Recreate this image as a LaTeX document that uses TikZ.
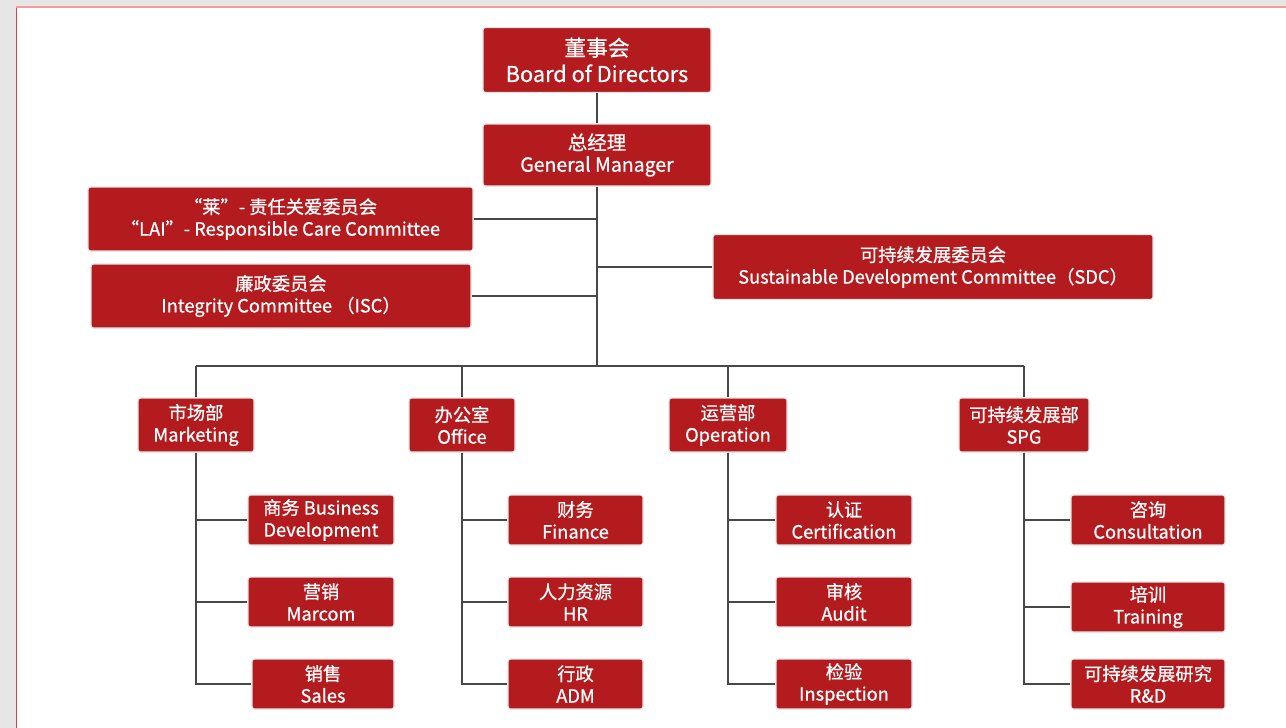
\documentclass[tikz,border=0pt]{standalone}
\usepackage{fontspec}
\setmainfont{Noto Sans CJK SC}[RawFeature={embolden=0.7}]
\usepackage{xcolor}
\usetikzlibrary{positioning,calc}

\definecolor{boxred}{RGB}{180,27,30}
\definecolor{linegray}{RGB}{72,72,72}
\definecolor{pagegray}{RGB}{230,230,231}
\definecolor{edgered}{RGB}{232,58,62}

\begin{document}
\begin{tikzpicture}[
    x=0.75pt, y=-0.75pt,
    unit/.style={rectangle, draw=black!10, line width=0.8pt, rounded corners=2pt,
                 fill=boxred, text=white, align=center, inner sep=0pt,
                 font=\fontsize{13.7}{16.5}\selectfont},
    wh/.style 2 args={minimum width=#1*0.75pt, minimum height=#2*0.75pt},
    link/.style={draw=linegray, line width=1.5pt}
]

% page
\useasboundingbox (0,0) rectangle (1286,728);
\fill[pagegray] (0,0) rectangle (1286,728);
\fill[white] (16,7) rectangle (1286,728);
\draw[edgered, line width=0.75pt] (16,7) -- (16,728);
\draw[edgered!50, line width=1.5pt] (16,7) -- (1286,7);

% top of the tree
\node[unit, wh={228}{65}, font=\fontsize{16.3}{19.5}\selectfont] (board) at (597,60) {董事会\\Board of Directors};
\node[unit, wh={228}{62}, font=\fontsize{14.6}{16.5}\selectfont] (gm) at (597,155) {总经理\\General Manager};
\coordinate (bus) at (597,366);

% committees
\node[unit, wh={385}{64}] (lai) at (280.5,219) {“莱”- 责任关爱委员会\\“LAI”- Responsible Care Committee};
\node[unit, wh={380}{64}] (isc) at (281,296) {廉政委员会\\Integrity Committee （ISC）};
\node[unit, wh={440}{65}] (sdc) at (933,267) {可持续发展委员会\\Sustainable Development Committee（SDC）};

% departments
\node[unit, wh={116}{54}] (mkt) at (196,425) {市场部\\Marketing};
\node[unit, wh={106}{54}] (off) at (462,425) {办公室\\Office};
\node[unit, wh={118}{54}] (opr) at (728,425) {运营部\\Operation};
\node[unit, wh={130}{54}] (spg) at (1024,425) {可持续发展部\\SPG};

% teams
\node[unit, wh={146}{50}] (bd) at (321,520) {商务 Business\\Development};
\node[unit, wh={146}{50}] (mc) at (321,602) {营销\\Marcom};
\node[unit, wh={142}{50}] (sl) at (323,684) {销售\\Sales};

\node[unit, wh={135}{50}] (fin) at (575.5,520) {财务\\Finance};
\node[unit, wh={135}{50}] (hr) at (575.5,602) {人力资源\\HR};
\node[unit, wh={135}{50}] (adm) at (575.5,684) {行政\\ADM};

\node[unit, wh={136}{50}] (cer) at (844,520) {认证\\Certification};
\node[unit, wh={136}{50}] (aud) at (844,602) {审核\\Audit};
\node[unit, wh={136}{50}] (ins) at (844,684) {检验\\Inspection};

\node[unit, wh={154}{50}] (con) at (1148,520) {咨询\\Consultation};
\node[unit, wh={154}{50}] (tra) at (1148,607) {培训\\Training};
\node[unit, wh={154}{50}] (rd) at (1148,684) {可持续发展研究\\R\&D};

% links
\draw[link] (board) -- (gm);
\draw[link] (gm) -- (bus);
\draw[link] (lai) -- (lai -| bus);
\draw[link] (isc) -- (isc -| bus);
\draw[link] (sdc) -- (sdc -| bus);
\draw[link] (bus -| mkt) -- (bus -| spg);
\foreach \d in {mkt,off,opr,spg}
    \draw[link] (bus -| \d) -- (\d);
\foreach \d/\t in {mkt/bd,mkt/mc,mkt/sl,off/fin,off/hr,off/adm,
                   opr/cer,opr/aud,opr/ins,spg/con,spg/tra,spg/rd}
    \draw[link] (\d) |- (\t);

\end{tikzpicture}
\end{document}
